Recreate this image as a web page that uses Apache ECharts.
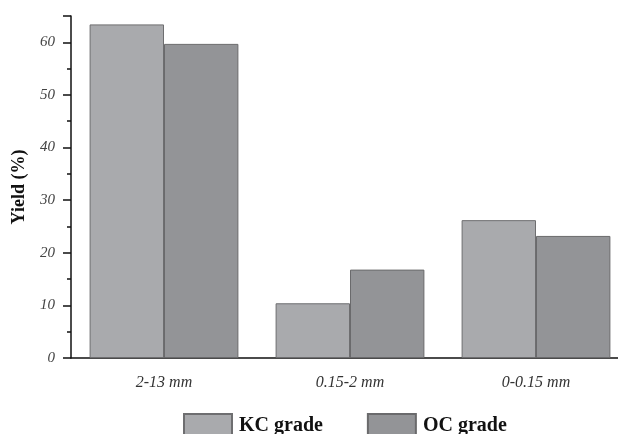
<!DOCTYPE html>
<html>
<head>
<meta charset="utf-8">
<script src="https://cdn.jsdelivr.net/npm/echarts@6/dist/echarts.min.js"></script>
<style>html,body{margin:0;padding:0;background:#fff;}#c{width:618px;height:434px;}</style>
</head>
<body>
<div id="c"></div>
<script>
var categories = ['2-13 mm', '0.15-2 mm', '0-0.15 mm'];
var kcGrade = [63.4, 10.4, 26.2];
var ocGrade = [59.7, 16.8, 23.2];
var seriesNames = ['KC grade', 'OC grade'];

var chart = echarts.init(document.getElementById('c'));
var serif = 'Liberation Serif';
chart.setOption({
  animation: false,
  backgroundColor: '#ffffff',
  grid: { left: 71, top: 16, width: 558, height: 342, containLabel: false, outerBoundsMode: 'none' },
  legend: {
    left: 183, top: 413, padding: 0,
    itemWidth: 48, itemHeight: 24, itemGap: 44,
    icon: 'rect',
    textStyle: { fontFamily: serif, fontWeight: 'bold', fontSize: 20, color: '#111', padding: [0, 0, 0, 2] },
    data: seriesNames
  },
  xAxis: {
    type: 'category',
    data: categories,
    axisLine: { lineStyle: { color: '#111', width: 1.5 } },
    axisTick: { show: false },
    axisLabel: { fontFamily: serif, fontStyle: 'italic', fontSize: 16, color: '#333', margin: 17 }
  },
  yAxis: {
    type: 'value',
    min: 0, max: 65, interval: 10,
    name: 'Yield (%)',
    nameLocation: 'middle',
    nameGap: 43,
    nameTextStyle: { fontFamily: serif, fontWeight: 'bold', fontSize: 18, color: '#111' },
    axisLine: { show: true, lineStyle: { color: '#111', width: 1.5 } },
    axisTick: { show: true, length: 8, lineStyle: { color: '#111', width: 1.5 } },
    minorTick: { show: true, splitNumber: 2, length: 4, lineStyle: { color: '#111', width: 1.5 } },
    splitLine: { show: false },
    axisLabel: { fontFamily: serif, fontStyle: 'italic', fontSize: 15, color: '#444', margin: 16, showMaxLabel: false }
  },
  series: [
    {
      name: seriesNames[0], type: 'bar', data: kcGrade,
      barGap: '0%', barCategoryGap: '20%',
      itemStyle: { color: '#a9aaad', borderColor: '#6e6e70', borderWidth: 1 }
    },
    {
      name: seriesNames[1], type: 'bar', data: ocGrade,
      barGap: '0%', barCategoryGap: '20%',
      itemStyle: { color: '#939497', borderColor: '#6a6a6c', borderWidth: 1 }
    }
  ]
});
</script>
</body>
</html>
